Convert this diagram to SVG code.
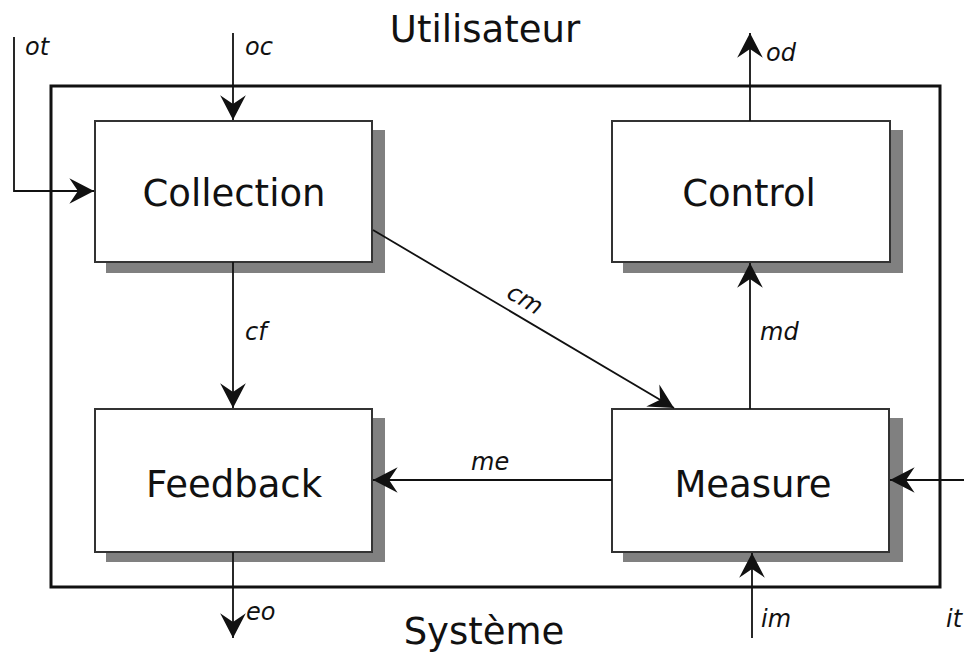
<svg xmlns="http://www.w3.org/2000/svg" width="964" height="655" viewBox="0 0 964 655">
<defs>
<style>
.shadow{fill:#808080;stroke:none}
.box{fill:#fff;stroke:#333;stroke-width:2}
.nt{font-family:"DejaVu Sans",Verdana,sans-serif;font-size:37px;fill:#111;text-anchor:middle}
.tt{font-family:"DejaVu Sans",Verdana,sans-serif;font-size:37px;fill:#111;text-anchor:middle}
.lb{font-family:"DejaVu Sans",Verdana,sans-serif;font-size:24px;font-style:italic;fill:#111}
.ln{fill:none;stroke:#111;stroke-width:1.8}
.frame{fill:none;stroke:#111;stroke-width:3}
</style>
<marker id="ah" markerUnits="userSpaceOnUse" markerWidth="30" markerHeight="30" viewBox="-24 -14 26 28" refX="0" refY="0" orient="auto">
<path d="M0,0 L-23,-12 L-15,0 L-23,12 Z" fill="#111"/>
</marker>
</defs>
<rect width="964" height="655" fill="#fff"/>
<rect class="frame" x="51" y="86" width="889" height="501"/>
<text class="tt" x="485" y="42">Utilisateur</text>
<text class="tt" x="484" y="644">Système</text>
<g id="collection">
<rect class="shadow" x="106" y="130" width="279" height="143"/>
<rect class="box" x="95" y="121" width="277" height="141"/>
<text class="nt" x="234" y="206">Collection</text>
</g>
<g id="control">
<rect class="shadow" x="623" y="130" width="280" height="143"/>
<rect class="box" x="612" y="121" width="278" height="141"/>
<text class="nt" x="749" y="206">Control</text>
</g>
<g id="feedback">
<rect class="shadow" x="106" y="418" width="279" height="144"/>
<rect class="box" x="95" y="409" width="277" height="143"/>
<text class="nt" x="234" y="497">Feedback</text>
</g>
<g id="measure">
<rect class="shadow" x="623" y="418" width="280" height="144"/>
<rect class="box" x="612" y="409" width="277" height="143"/>
<text class="nt" x="753" y="497">Measure</text>
</g>
<g id="connectors">
<path class="ln" d="M14,37 V191 H94" marker-end="url(#ah)"/>
<path class="ln" d="M233,33 V120" marker-end="url(#ah)"/>
<path class="ln" d="M233,262 V408" marker-end="url(#ah)"/>
<path class="ln" d="M233,552 V638" marker-end="url(#ah)"/>
<path class="ln" d="M373,230 L674,408" marker-end="url(#ah)"/>
<path class="ln" d="M612,480 H373" marker-end="url(#ah)"/>
<path class="ln" d="M750,409 V263" marker-end="url(#ah)"/>
<path class="ln" d="M750,121 V33" marker-end="url(#ah)"/>
<path class="ln" d="M964,480 H890" marker-end="url(#ah)"/>
<path class="ln" d="M752,638 V553" marker-end="url(#ah)"/>
<text class="lb" x="25" y="55">ot</text>
<text class="lb" x="245" y="55">oc</text>
<text class="lb" x="766" y="61">od</text>
<text class="lb" x="245" y="340">cf</text>
<text class="lb" x="760" y="340">md</text>
<text class="lb" x="471" y="470">me</text>
<text class="lb" x="246" y="620">eo</text>
<text class="lb" x="761" y="627">im</text>
<text class="lb" x="946" y="627">it</text>
<text class="lb" transform="translate(521,306) rotate(30.8)" text-anchor="middle">cm</text>
</g>
</svg>
